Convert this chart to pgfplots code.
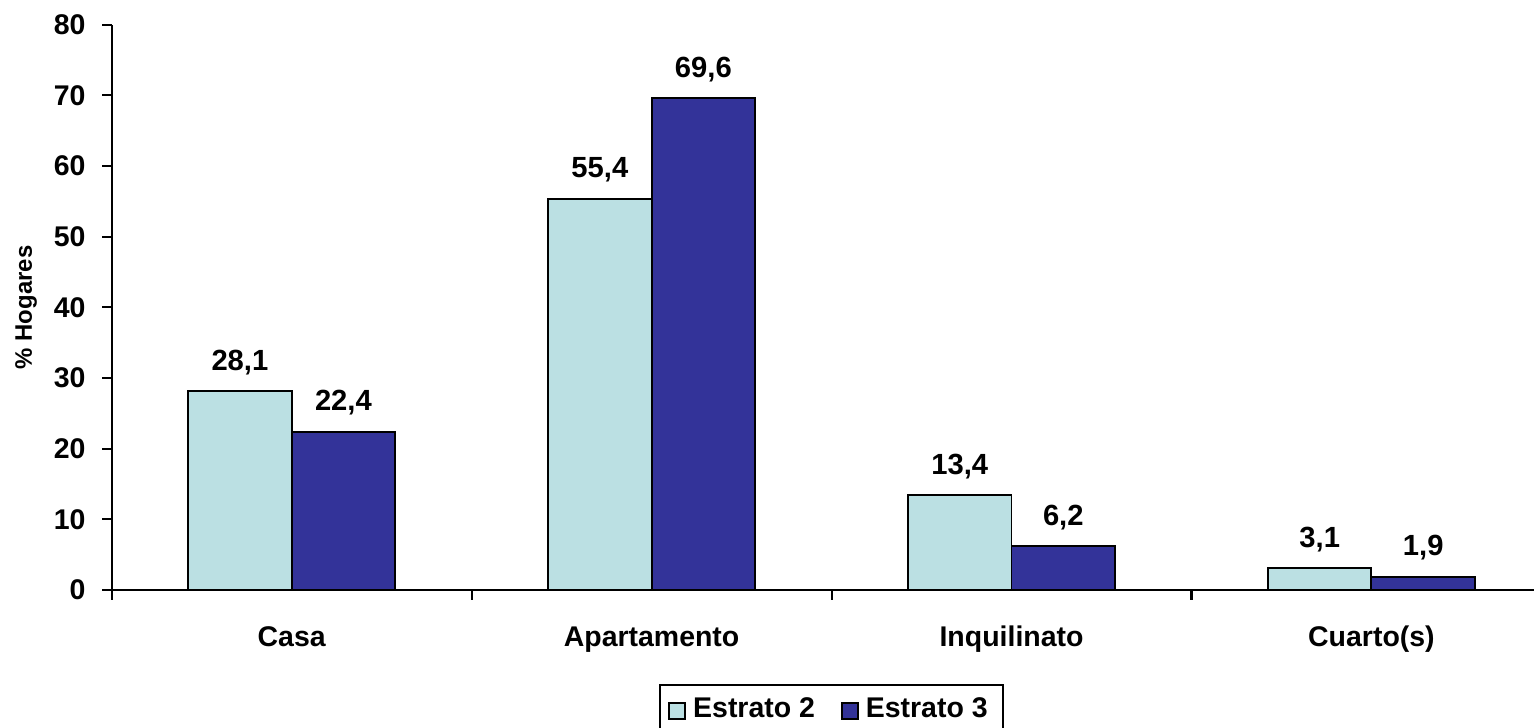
\documentclass[border=0pt]{standalone}
\usepackage{pgfplots}
\pgfplotsset{compat=1.18}
\usepackage{fontspec}
\setmainfont{Liberation Sans}

\definecolor{estratodos}{RGB}{187,224,227}
\definecolor{estratotres}{RGB}{51,51,153}

\begin{document}
\begin{tikzpicture}
\begin{axis}[
  at={(0,0)}, anchor=south west,
  scale only axis,
  width=14.397cm, height=5.653cm,
  ybar=0pt,
  bar width=1.035cm,
  xmin=-0.5, xmax=3.5,
  ymin=0, ymax=80,
  ytick={0,10,...,80},
  axis lines*=left,
  axis line style={line width=0.6pt},
  tick align=outside,
  major tick length=0.095cm,
  tick style={black, line width=0.6pt},
  xtick={-0.5,0.5,1.5,2.5,3.5},
  xticklabels={},
  extra x ticks={0,1,2,3},
  extra x tick labels={Casa,Apartamento,Inquilinato,Cuarto(s)},
  extra x tick style={major tick length=0pt,
    xticklabel style={anchor=base, yshift=-0.56cm, inner sep=0pt}},
  /pgf/number format/assume math mode=true,
  ticklabel style={font=\fontsize{8.1}{9.7}\selectfont\bfseries},
  yticklabel style={anchor=east, inner sep=0pt, xshift=-0.16cm},
  ylabel={\% Hogares},
  every axis y label/.style={at={(-0.0595,0.5)}, rotate=90, anchor=center,
    font=\fontsize{6.8}{8}\selectfont\bfseries},
  nodes near coords={\pgfmathprintnumber[fixed, precision=1, use comma]{\pgfplotspointmeta}},
  every node near coord/.append style={font=\fontsize{8.3}{9.9}\selectfont\bfseries,
    text=black, anchor=base, inner sep=0pt, yshift=0.21cm},
  legend columns=2,
  legend image code/.code={\draw[#1, draw=black, line width=0.5pt] (0cm,-0.08cm) rectangle (0.16cm,0.08cm);},
  legend style={at={(0.5,0)}, anchor=north, yshift=-0.94cm,
    draw=black, line width=0.6pt,
    font=\fontsize{8.1}{9.7}\selectfont\bfseries,
    inner xsep=0.08cm, inner ysep=0.06cm,
    /tikz/every even column/.append style={column sep=0.19cm}},
]
\addplot[fill=estratodos, draw=black, line width=0.55pt]
  coordinates {(0,28.1) (1,55.4) (2,13.4) (3,3.1)};
\addplot[fill=estratotres, draw=black, line width=0.55pt]
  coordinates {(0,22.4) (1,69.6) (2,6.2) (3,1.9)};
\legend{Estrato 2, Estrato 3}
\end{axis}
\pgfresetboundingbox
\useasboundingbox (-1.117cm,-1.37cm) rectangle (14.223cm,5.9cm);
\end{tikzpicture}
\end{document}
